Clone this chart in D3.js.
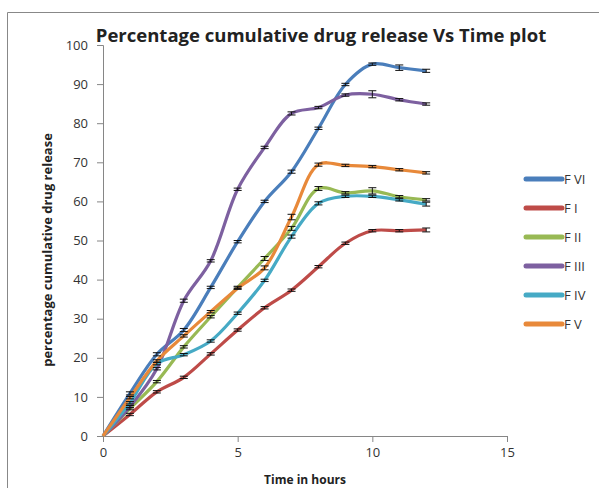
<!DOCTYPE html>
<html>
<head>
<meta charset="utf-8">
<script src="https://cdn.jsdelivr.net/npm/d3@7"></script>
<style>
  body { margin: 0; background: #fff; }
  text { font-family: "Open Sans", "Liberation Sans", sans-serif; }
</style>
</head>
<body>
<script>
// time points (hours)
var hours = [0, 1, 2, 3, 4, 5, 6, 7, 8, 9, 10, 11, 12];

// series values, % cumulative drug release
var fVI  = [0, 10.9, 20.9, 27.1, 38.0, 49.7, 60.0, 67.6, 78.7, 89.9, 95.1, 94.2, 93.4];
var fI   = [0, 5.5, 11.3, 15.0, 21.0, 27.1, 32.8, 37.3, 43.3, 49.3, 52.5, 52.5, 52.7];
var fII  = [0, 7.0, 13.9, 22.8, 30.5, 38.0, 45.4, 53.1, 63.3, 62.2, 62.7, 61.2, 60.4];
var fIII = [0, 7.5, 17.2, 34.6, 44.8, 63.1, 73.8, 82.5, 84.0, 87.2, 87.4, 86.0, 84.9];
var fIV  = [0, 8.5, 18.5, 20.8, 24.3, 31.4, 39.8, 51.0, 59.5, 61.3, 61.3, 60.4, 59.3];
var fV   = [0, 9.8, 19.2, 25.6, 31.8, 37.8, 43.0, 56.0, 69.4, 69.2, 68.9, 68.1, 67.3];

// error bar half-heights
var errVI  = [0, 0.4, 0.4, 0.4, 0.3, 0.3, 0.3, 0.4, 0.3, 0.3, 0.3, 0.7, 0.4];
var errI   = [0, 0.3, 0.3, 0.3, 0.3, 0.3, 0.3, 0.3, 0.3, 0.3, 0.3, 0.3, 0.5];
var errII  = [0, 0.3, 0.3, 0.3, 0.3, 0.3, 0.5, 0.5, 0.5, 0.3, 0.8, 0.3, 0.3];
var errIII = [0, 0.3, 0.3, 0.4, 0.3, 0.3, 0.3, 0.4, 0.3, 0.3, 0.9, 0.3, 0.3];
var errIV  = [0, 0.3, 0.3, 0.3, 0.3, 0.3, 0.3, 0.4, 0.4, 0.3, 0.3, 0.3, 0.5];
var errV   = [0, 0.3, 0.3, 0.3, 0.3, 0.3, 0.5, 0.7, 0.4, 0.3, 0.3, 0.3, 0.3];

var names  = ["F VI", "F I", "F II", "F III", "F IV", "F V"];
var colors = ["#4a7ebb", "#be4b48", "#98b954", "#7d60a0", "#46aac5", "#e8893a"];

var xTicks = [0, 5, 10, 15];
var yTicks = [0, 10, 20, 30, 40, 50, 60, 70, 80, 90, 100];

var series = [
  {name: names[0], values: fVI,  err: errVI,  color: colors[0]},
  {name: names[1], values: fI,   err: errI,   color: colors[1]},
  {name: names[2], values: fII,  err: errII,  color: colors[2]},
  {name: names[3], values: fIII, err: errIII, color: colors[3]},
  {name: names[4], values: fIV,  err: errIV,  color: colors[4]},
  {name: names[5], values: fV,   err: errV,   color: colors[5]}
];

var W = 599, H = 488;
var svg = d3.select("body").append("svg")
    .attr("width", W)
    .attr("height", H);

// outer frame (top and left edges visible)
svg.append("path")
    .attr("d", "M7.5," + H + "V12.5H" + W)
    .attr("fill", "none")
    .attr("stroke", "#888")
    .attr("stroke-width", 1);

var x = d3.scaleLinear().domain([0, 15]).range([103, 507]);
var y = d3.scaleLinear().domain([0, 100]).range([436, 45]);

// axes
var xAxis = svg.append("g")
    .attr("transform", "translate(0," + y(0) + ")")
    .call(d3.axisBottom(x).tickValues(xTicks).tickSize(6).tickPadding(6));
var yAxis = svg.append("g")
    .attr("transform", "translate(" + x(0) + ",0)")
    .call(d3.axisLeft(y).tickValues(yTicks).tickSize(6).tickPadding(9));

[xAxis, yAxis].forEach(function(a) {
  a.selectAll("path, line").attr("stroke", "#868686");
  a.selectAll("text")
      .attr("fill", "#333")
      .style("font-size", "13px");
});

// lines
var line = d3.line()
    .x(function(d, i) { return x(hours[i]); })
    .y(function(d) { return y(d); })
    .curve(d3.curveCatmullRom.alpha(0.5));

svg.selectAll(".series")
    .data(series)
    .enter()
    .append("path")
    .attr("class", "series")
    .attr("d", function(d) { return line(d.values); })
    .attr("fill", "none")
    .attr("stroke", function(d) { return d.color; })
    .attr("stroke-width", 3.2)
    .attr("stroke-linejoin", "round");

// error bars
series.forEach(function(s) {
  var pts = s.values.map(function(v, i) { return {t: hours[i], v: v, e: s.err[i]}; })
      .filter(function(p) { return p.t > 0; });
  var g = svg.append("g").attr("stroke", "#111").attr("stroke-width", 1);
  g.selectAll("line.v").data(pts).enter().append("line")
      .attr("x1", function(p) { return x(p.t); })
      .attr("x2", function(p) { return x(p.t); })
      .attr("y1", function(p) { return y(p.v - p.e); })
      .attr("y2", function(p) { return y(p.v + p.e); });
  [-1, 1].forEach(function(sg) {
    g.selectAll("line.c" + sg).data(pts).enter().append("line")
        .attr("x1", function(p) { return x(p.t) - 4; })
        .attr("x2", function(p) { return x(p.t) + 4; })
        .attr("y1", function(p) { return y(p.v + sg * p.e); })
        .attr("y2", function(p) { return y(p.v + sg * p.e); });
  });
});

// title
svg.append("text")
    .attr("x", 321)
    .attr("y", 42)
    .attr("text-anchor", "middle")
    .style("font-size", "18.5px")
    .style("font-weight", "bold")
    .attr("fill", "#222")
    .text("Percentage cumulative drug release Vs Time plot");

// axis titles
svg.append("text")
    .attr("x", 305)
    .attr("y", 484)
    .attr("text-anchor", "middle")
    .style("font-size", "12px")
    .style("font-weight", "bold")
    .attr("fill", "#222")
    .text("Time in hours");

svg.append("text")
    .attr("transform", "translate(52,250) rotate(-90)")
    .attr("text-anchor", "middle")
    .style("font-size", "13px")
    .style("font-weight", "bold")
    .attr("fill", "#222")
    .text("percentage cumulative drug release");

// legend
var leg = svg.selectAll(".leg")
    .data(series)
    .enter()
    .append("g")
    .attr("class", "leg")
    .attr("transform", function(d, i) { return "translate(526," + (179 + i * 29) + ")"; });
leg.append("line")
    .attr("x1", 0).attr("x2", 36)
    .attr("stroke", function(d) { return d.color; })
    .attr("stroke-width", 5)
    .attr("stroke-linecap", "round");
leg.append("text")
    .attr("x", 38)
    .attr("dy", "0.35em")
    .style("font-size", "13px")
    .attr("fill", "#333")
    .text(function(d) { return d.name; });
</script>
</body>
</html>
